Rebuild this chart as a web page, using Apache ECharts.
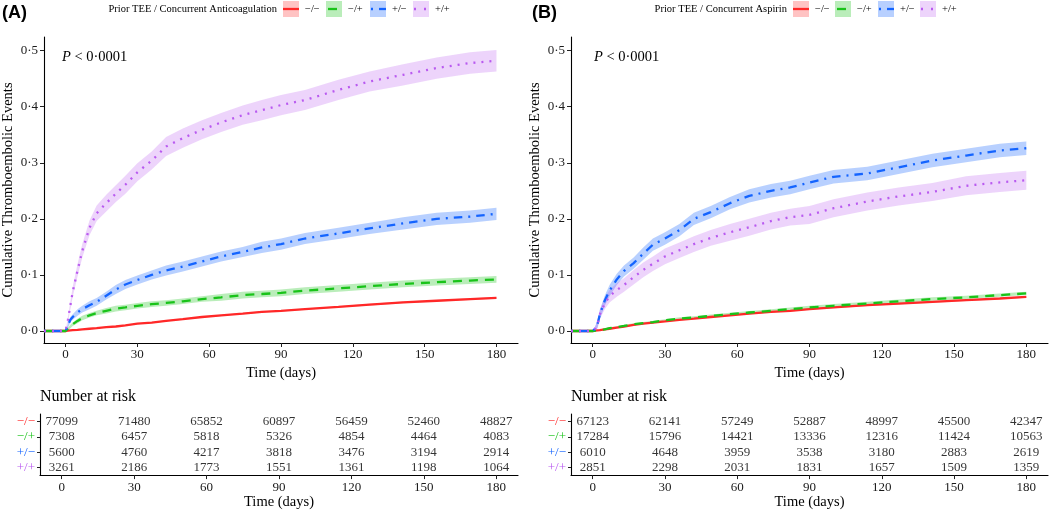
<!DOCTYPE html>
<html><head><meta charset="utf-8">
<script src="https://cdn.jsdelivr.net/npm/echarts@6/dist/echarts.min.js"></script>
<style>html,body{margin:0;padding:0;background:#fff}#c{width:1050px;height:511px}</style>
</head><body><div id="c"></div>
<script>
// ---------- data ----------
const T = [-9,0,1,2,3,5,7,10,13,17,21,25,30,36,42,49,57,65,74,82,90,100,114,127,141,155,169,180];
const groups = ['\u2212/\u2212','\u2212/+','+/\u2212','+/+'];
const riskTimes = [0,30,60,90,120,150,180];
const xTicks = [0,30,60,90,120,150,180];
const yTicks = [0,0.1,0.2,0.3,0.4,0.5];

// Panel A (Anticoagulation)
const aRed    = [0,0,0.0005,0.001,0.0015,0.002,0.003,0.004,0.005,0.007,0.008,0.01,0.013,0.015,0.018,0.021,0.025,0.028,0.031,0.034,0.036,0.039,0.043,0.047,0.051,0.054,0.057,0.059];
const aRedHw  = [0,0,0,0,0,0.0005,0.0005,0.0005,0.0008,0.0008,0.0008,0.001,0.001,0.001,0.001,0.001,0.001,0.0012,0.0012,0.0012,0.0012,0.0013,0.0013,0.0014,0.0014,0.0015,0.0015,0.0015];
const aGreen  = [0,0,0.004,0.008,0.012,0.018,0.023,0.028,0.032,0.036,0.04,0.042,0.045,0.048,0.05,0.053,0.057,0.06,0.064,0.066,0.068,0.072,0.076,0.08,0.084,0.087,0.09,0.092];
const aGreenHw= [0,0,0.002,0.003,0.003,0.004,0.004,0.004,0.004,0.005,0.005,0.005,0.005,0.005,0.005,0.005,0.005,0.006,0.006,0.006,0.006,0.006,0.006,0.006,0.006,0.006,0.006,0.006];
const aBlue   = [0,0,0.01,0.02,0.025,0.033,0.039,0.046,0.052,0.063,0.074,0.083,0.091,0.1,0.108,0.115,0.124,0.133,0.141,0.149,0.155,0.165,0.174,0.183,0.192,0.2,0.204,0.209];
const aBlueHw = [0,0,0.004,0.005,0.005,0.006,0.006,0.007,0.007,0.007,0.008,0.008,0.008,0.008,0.009,0.009,0.009,0.009,0.009,0.01,0.01,0.01,0.01,0.01,0.011,0.011,0.011,0.011];
const aPink   = [0,0,0.02,0.045,0.07,0.108,0.143,0.184,0.21,0.228,0.245,0.261,0.283,0.304,0.329,0.344,0.359,0.372,0.385,0.394,0.403,0.412,0.43,0.445,0.457,0.469,0.478,0.482];
const aPinkHw = [0,0,0.005,0.007,0.009,0.011,0.012,0.013,0.014,0.015,0.015,0.016,0.016,0.016,0.017,0.017,0.017,0.017,0.017,0.018,0.018,0.018,0.018,0.018,0.019,0.019,0.019,0.019];

// Panel B (Aspirin)
const bRed    = [0,0,0.0005,0.001,0.0015,0.003,0.004,0.006,0.008,0.011,0.013,0.015,0.017,0.02,0.022,0.025,0.028,0.031,0.034,0.036,0.039,0.042,0.046,0.049,0.052,0.055,0.058,0.061];
const bRedHw  = [0,0,0,0,0,0.0005,0.0005,0.0008,0.0008,0.001,0.001,0.001,0.001,0.001,0.001,0.0012,0.0012,0.0012,0.0012,0.0013,0.0013,0.0013,0.0014,0.0014,0.0015,0.0015,0.0015,0.0015];
const bGreen  = [0,0,0.0005,0.001,0.0015,0.003,0.005,0.007,0.009,0.012,0.014,0.016,0.019,0.022,0.024,0.027,0.03,0.033,0.036,0.039,0.042,0.045,0.049,0.053,0.057,0.06,0.064,0.067];
const bGreenHw= [0,0,0,0.0005,0.001,0.001,0.0015,0.0015,0.002,0.002,0.002,0.002,0.002,0.0025,0.0025,0.0025,0.0025,0.0025,0.003,0.003,0.003,0.003,0.003,0.003,0.003,0.003,0.003,0.003];
const bBlue   = [0,0,0.004,0.012,0.03,0.054,0.072,0.092,0.107,0.121,0.138,0.154,0.165,0.18,0.2,0.212,0.228,0.241,0.25,0.256,0.265,0.275,0.281,0.292,0.304,0.313,0.322,0.326];
const bBlueHw = [0,0,0.004,0.006,0.008,0.009,0.01,0.01,0.01,0.01,0.011,0.011,0.011,0.011,0.011,0.011,0.011,0.012,0.012,0.012,0.012,0.012,0.012,0.012,0.012,0.012,0.012,0.012];
const bPink   = [0,0,0.004,0.012,0.03,0.049,0.062,0.073,0.082,0.096,0.109,0.12,0.133,0.144,0.155,0.166,0.176,0.185,0.196,0.203,0.207,0.219,0.231,0.24,0.248,0.259,0.265,0.269];
const bPinkHw = [0,0,0.004,0.007,0.009,0.01,0.011,0.012,0.012,0.013,0.013,0.013,0.014,0.014,0.014,0.014,0.015,0.015,0.015,0.015,0.016,0.016,0.016,0.016,0.016,0.017,0.017,0.017];

// Number at risk
const riskA_mm = [77099,71480,65852,60897,56459,52460,48827];
const riskA_mp = [7308,6457,5818,5326,4854,4464,4083];
const riskA_pm = [5600,4760,4217,3818,3476,3194,2914];
const riskA_pp = [3261,2186,1773,1551,1361,1198,1064];
const riskB_mm = [67123,62141,57249,52887,48997,45500,42347];
const riskB_mp = [17284,15796,14421,13336,12316,11424,10563];
const riskB_pm = [6010,4648,3959,3538,3180,2883,2619];
const riskB_pp = [2851,2298,2031,1831,1657,1509,1359];

// ---------- styling ----------
const SERIF = '"Liberation Serif","Times New Roman",serif';
const SANS = '"Liberation Sans",Arial,sans-serif';
const COL = ['rgb(255,40,40)','rgb(25,195,25)','rgb(20,100,255)','rgb(185,90,240)'];
const BAND = ['rgba(255,40,40,0.28)','rgba(25,195,25,0.30)','rgba(20,100,255,0.30)','rgba(185,90,240,0.26)'];
const DASH = ['solid',[9,7],[2,6,8.5,6],[2,6]];

const chart = echarts.init(document.getElementById('c'), null, {renderer:'canvas'});

const mainGrids = [{left:40, top:37, width:478, height:306},{left:571, top:37, width:477, height:306}];
const riskGrids = [{left:40, top:414, width:478, height:64},{left:571, top:414, width:477, height:64}];

function xAxisDef(gi, nameGap, labelMargin){
  return {type:'value', gridIndex:gi, min:-9, max:189,
    axisLine:{show:true, onZero:false, lineStyle:{color:'#000', width:1.1}},
    axisTick:{show:true, length:4, customValues:xTicks, lineStyle:{color:'#222', width:1}},
    axisLabel:{customValues:xTicks, color:'#1a1a1a', fontSize:13, fontFamily:SERIF, margin:labelMargin},
    splitLine:{show:false},
    name:'Time (days)', nameLocation:'middle', nameGap:nameGap,
    nameTextStyle:{fontSize:14.5, fontFamily:SERIF, color:'#000'}};
}
function yMainDef(gi){
  return {type:'value', gridIndex:gi, min:-0.0214, max:0.5244,
    axisLine:{show:true, onZero:false, lineStyle:{color:'#000', width:1.1}},
    axisTick:{show:true, length:4, customValues:yTicks, lineStyle:{color:'#222'}},
    axisLabel:{customValues:yTicks, color:'#1a1a1a', fontSize:13, fontFamily:SERIF, margin:6,
      formatter:v=>v.toFixed(1).replace('.','\u00b7')},
    splitLine:{show:false},
    name:'Cumulative Thromboembolic Events', nameLocation:'middle', nameGap:28, nameRotate:90,
    nameTextStyle:{fontSize:14.5, fontFamily:SERIF, color:'#000'}};
}
function yRiskDef(gi){
  return {type:'category', gridIndex:gi, data:groups, inverse:true,
    axisLine:{show:true, onZero:false, lineStyle:{color:'#000', width:1.1}},
    axisTick:{show:true, alignWithLabel:true, interval:0, length:3, lineStyle:{color:'#222'}},
    axisLabel:{fontSize:13, fontFamily:SERIF, margin:5, interval:0, color:(v,i)=>COL[i]},
    splitLine:{show:false}};
}

const series = [];
function addBand(gi, v, hw, k){
  const rows = T.map((t,i)=>[t, v[i]-hw[i], v[i]+hw[i]]);
  series.push({type:'custom', xAxisIndex:gi, yAxisIndex:gi, data:rows, silent:true, z:1,
    renderItem:(params, api)=>{
      if(params.dataIndex !== 0) return null;
      const up = rows.map(r=>api.coord([r[0], r[2]]));
      const lo = rows.map(r=>api.coord([r[0], r[1]])).reverse();
      return {type:'polygon', shape:{points:up.concat(lo)}, style:{fill:BAND[k], stroke:null}};
    }});
}
function addLine(gi, v, k){
  series.push({type:'line', xAxisIndex:gi, yAxisIndex:gi, data:T.map((t,i)=>[t, v[i]]),
    symbol:'none', silent:true, z:3,
    lineStyle:{color:COL[k], width:2.3, type:DASH[k], cap:'butt'}});
}
const A = [[aRed,aRedHw],[aGreen,aGreenHw],[aBlue,aBlueHw],[aPink,aPinkHw]];
const B = [[bRed,bRedHw],[bGreen,bGreenHw],[bBlue,bBlueHw],[bPink,bPinkHw]];
A.forEach((d,k)=>addBand(0,d[0],d[1],k));
B.forEach((d,k)=>addBand(1,d[0],d[1],k));
A.forEach((d,k)=>addLine(0,d[0],k));
B.forEach((d,k)=>addLine(1,d[0],k));

function addRisk(gi, rows){
  const data = [];
  rows.forEach((r,ri)=>r.forEach((n,ti)=>data.push([riskTimes[ti], ri, n])));
  series.push({type:'scatter', xAxisIndex:gi, yAxisIndex:gi, data, symbolSize:0, silent:true,
    itemStyle:{color:'rgba(0,0,0,0)'},
    label:{show:true, position:'inside', formatter:p=>String(p.value[2]),
      color:'#000', fontSize:13, fontFamily:SERIF}});
}
addRisk(2, [riskA_mm,riskA_mp,riskA_pm,riskA_pp]);
addRisk(3, [riskB_mm,riskB_mp,riskB_pm,riskB_pp]);

// ---------- graphic: panel labels, p-values, legends ----------
const graphic = [];
function txt(x,y,text,opt){
  graphic.push({type:'text', x, y, silent:true,
    style:Object.assign({text, fill:'#000', font:'10.5px '+SERIF, verticalAlign:'middle', align:'left'}, opt||{})});
}
txt(2,13,'(A)',{font:'bold 18px '+SANS});
txt(532,13,'(B)',{font:'bold 18px '+SANS});
[[62,57],[594,57]].forEach(p=>{
  graphic.push({type:'text', x:p[0], y:p[1], silent:true, style:{
    text:'{i|P} < 0\u00b70001', verticalAlign:'middle', align:'left',
    font:'14.5px '+SERIF, fill:'#000',
    rich:{i:{fontStyle:'italic', fontSize:14.5, fontFamily:SERIF, fill:'#000'}}}});
});
function legend(titleText, titleRight, boxXs){
  txt(titleRight, 9, titleText, {align:'right'});
  boxXs.forEach((bx,k)=>{
    graphic.push({type:'rect', silent:true, shape:{x:bx, y:1, width:16, height:16}, style:{fill:BAND[k]}});
    const st = {stroke:COL[k], lineWidth:2.3};
    if(k===0) graphic.push({type:'line', silent:true, shape:{x1:bx, y1:9, x2:bx+16, y2:9}, style:st});
    if(k===1) graphic.push({type:'line', silent:true, shape:{x1:bx+2, y1:9, x2:bx+11, y2:9}, style:st});
    if(k===2){
      graphic.push({type:'line', silent:true, shape:{x1:bx+1, y1:9, x2:bx+3, y2:9}, style:st});
      graphic.push({type:'line', silent:true, shape:{x1:bx+9, y1:9, x2:bx+16, y2:9}, style:st});
    }
    if(k===3){
      graphic.push({type:'line', silent:true, shape:{x1:bx+1, y1:9, x2:bx+3, y2:9}, style:st});
      graphic.push({type:'line', silent:true, shape:{x1:bx+11, y1:9, x2:bx+13, y2:9}, style:st});
    }
    txt(bx+22, 9, groups[k]);
  });
}
legend('Prior TEE / Concurrent Anticoagulation', 277, [283,326,370,413]);
legend('Prior TEE / Concurrent Aspirin', 787, [793,835,878,920]);

chart.setOption({
  animation:false,
  backgroundColor:'#fff',
  title:[
    {text:'Number at risk', left:40, top:389, padding:0, textStyle:{fontSize:16, fontWeight:'normal', fontFamily:SERIF, color:'#000'}},
    {text:'Number at risk', left:571, top:389, padding:0, textStyle:{fontSize:16, fontWeight:'normal', fontFamily:SERIF, color:'#000'}}
  ],
  grid:[...mainGrids, ...riskGrids],
  xAxis:[xAxisDef(0,17,5), xAxisDef(1,17,5), xAxisDef(2,19,6), xAxisDef(3,19,6)],
  yAxis:[yMainDef(0), yMainDef(1), yRiskDef(2), yRiskDef(3)],
  series,
  graphic
});
</script></body></html>
